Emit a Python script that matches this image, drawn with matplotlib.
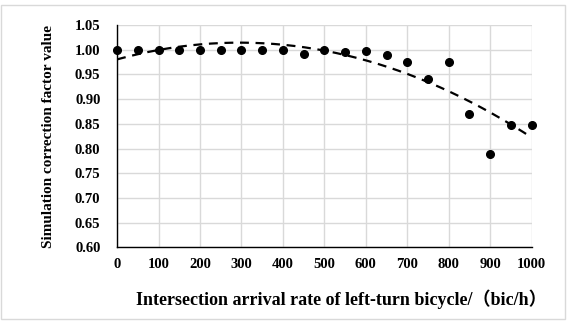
import numpy as np
import matplotlib
matplotlib.use("Agg")
import matplotlib.pyplot as plt
from matplotlib.patches import Rectangle

x_vals = [0, 50, 100, 150, 200, 250, 300, 350, 400, 450, 500, 550, 600, 650, 700, 750, 800, 850, 900, 950, 1000]
y_vals = [1.000, 1.000, 1.000, 1.000, 1.000, 1.000, 1.000, 1.000, 1.000, 0.992, 1.000, 0.995, 0.997, 0.989,
          0.975, 0.941, 0.975, 0.869, 0.789, 0.847, 0.848]
x_ticks = list(range(0, 1001, 100))
y_ticks = [0.60, 0.65, 0.70, 0.75, 0.80, 0.85, 0.90, 0.95, 1.00, 1.05]

fam = ['Liberation Serif', 'Noto Sans CJK SC']
plt.rcParams['font.family'] = fam

fig = plt.figure(figsize=(5.71, 3.25), dpi=100)
fig.patches.append(Rectangle((0.002, 0.02), 0.988, 0.965, transform=fig.transFigure,
                             fill=False, edgecolor='#d9d9d9', linewidth=1))
ax = fig.add_axes([0.205, 0.239, 0.726, 0.684])

ax.set_xlim(0, 1000)
ax.set_ylim(0.60, 1.05)
ax.set_xticks(x_ticks)
ax.set_yticks(y_ticks)
ax.set_xticklabels([str(v) for v in x_ticks], fontsize=10.5, fontweight='bold')
ax.set_yticklabels([f"{v:.2f}" for v in y_ticks], fontsize=10.5, fontweight='bold')
ax.tick_params(axis='x', length=0, pad=8)
ax.tick_params(axis='y', length=0, pad=12)
ax.grid(True, color='#d9d9d9', linewidth=1)
ax.set_axisbelow(True)
for s in ['top', 'right']:
    ax.spines[s].set_visible(False)
for s in ['left', 'bottom']:
    ax.spines[s].set_color('black')
    ax.spines[s].set_linewidth(1)

coef = np.polyfit(x_vals, y_vals, 2)
xs = np.linspace(0, 1000, 200)
ax.plot(xs, np.polyval(coef, xs), color='black', linestyle=(0, (4, 3)), linewidth=1.6, zorder=3)
ax.plot(x_vals, y_vals, 'o', color='black', markersize=5.5, zorder=4, clip_on=False)

ax.set_xlabel('Intersection arrival rate of left-turn bicycle/（bic/h）', fontsize=13, fontweight='bold')
ax.xaxis.set_label_coords(0.54, -0.19)
ax.set_ylabel('Simulation correction factor value', fontsize=11, fontweight='bold', labelpad=14)

fig.savefig('out.png', dpi=100)
